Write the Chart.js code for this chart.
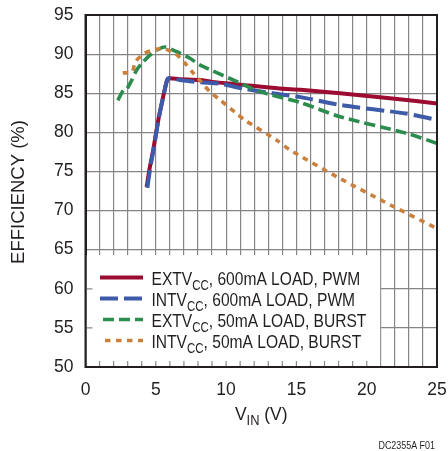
<!DOCTYPE html>
<html>
<head>
<meta charset="utf-8">
<script src="https://cdn.jsdelivr.net/npm/chart.js@4.4.1/dist/chart.umd.min.js"></script>
<style>
  html, body { margin: 0; padding: 0; background: #fff; }
  #wrap { width: 448px; height: 451px; }
</style>
</head>
<body>
<div id="wrap"><canvas id="effChart"></canvas></div>
<script>
// data (VIN in volts, efficiency in %)
const vinExt600 = [4.35, 4.55, 4.82, 5.18, 5.53, 5.77, 5.9, 6.7, 8.15, 9, 11, 13.8, 15.3, 18.1, 22, 25]
const effExt600 = [73.0, 75.3, 77.8, 81.6, 84.6, 86.5, 86.9, 86.8, 86.7, 86.45, 86.1, 85.6, 85.45, 85.0, 84.3, 83.7]

const vinInt600 = [4.4, 4.6, 4.85, 5.2, 5.55, 5.78, 5.9, 6.7, 8.15, 9.6, 11.2, 13.3, 15.3, 18.1, 22.8, 25]
const effInt600 = [72.9, 75.4, 77.9, 81.7, 84.7, 86.5, 86.9, 86.7, 86.4, 86.2, 85.6, 85.0, 84.5, 83.5, 82.4, 81.6]

const vinExt50 = [2.3, 2.7, 2.95, 3.3, 3.65, 4.1, 4.6, 5.05, 5.65, 6.5, 7.4, 8.15, 11, 12.4, 15.3, 18.1, 22.8, 25]
const effExt50 = [84.1, 85.4, 85.6, 86.7, 88.0, 89.0, 89.9, 90.5, 90.9, 90.3, 89.5, 88.6, 86.3, 85.2, 83.8, 82.0, 79.9, 78.6]

const vinInt50 = [2.65, 3.3, 3.55, 4.1, 4.8, 5.6, 6.5, 7.1, 7.7, 8.2, 8.85, 9.6, 10.75, 11.3, 13.6, 14.5, 18.1, 21.7, 25]
const effInt50 = [87.6, 87.7, 89.0, 90.0, 90.5, 90.7, 89.9, 88.8, 87.5, 86.5, 85.2, 84.1, 82.4, 81.6, 79.0, 77.8, 74.1, 70.7, 67.7]

const yTicks = [50, 55, 60, 65, 70, 75, 80, 85, 90, 95]
const xTicks = [0, 5, 10, 15, 20, 25]

const legendMain = ['EXTV', 'INTV', 'EXTV', 'INTV']
const legendRest = [', 600mA LOAD, PWM', ', 600mA LOAD, PWM', ', 50mA LOAD, BURST', ', 50mA LOAD, BURST']

const FONT = "'Liberation Sans', Arial, sans-serif"
const INK = '#231f20'

const colors = ['#9c0b30', '#3e5ba9', '#2b8c4e', '#c9803c']
const dashes = [[], [18, 6], [11, 5], [5.5, 5.5]]
const widths = [4, 4, 3.6, 3.6]

const toPoints = (xs, ys) => xs.map((x, i) => ({ x: x, y: ys[i] }))

const series = [
  toPoints(vinExt600, effExt600),
  toPoints(vinInt600, effInt600),
  toPoints(vinExt50, effExt50),
  toPoints(vinInt50, effInt50)
]

// text with a subscript part, squeezed horizontally by sx
function subText(ctx, x, y, main, sub, rest, size, sx) {
  ctx.save()
  ctx.translate(x, y)
  ctx.scale(sx, 1)
  let cx = 0
  ctx.font = size + 'px ' + FONT
  ctx.fillText(main, cx, 0)
  cx += ctx.measureText(main).width
  ctx.font = Math.round(size * 0.74) + 'px ' + FONT
  ctx.fillText(sub, cx, size * 0.25)
  cx += ctx.measureText(sub).width
  ctx.font = size + 'px ' + FONT
  ctx.fillText(rest, cx, 0)
  cx += ctx.measureText(rest).width
  ctx.restore()
  return cx * sx
}

function subWidth(ctx, main, sub, rest, size, sx) {
  ctx.font = size + 'px ' + FONT
  let w = ctx.measureText(main).width + ctx.measureText(rest).width
  ctx.font = Math.round(size * 0.74) + 'px ' + FONT
  w += ctx.measureText(sub).width
  return w * sx
}

// white legend box over the grid, with the inner axis ticks kept
const legendBox = {
  id: 'legendBox',
  beforeDatasetsDraw(chart) {
    const { ctx, chartArea, scales } = chart
    const x0 = chartArea.left + 1
    const x1 = scales.x.getPixelForValue(21) - 0.6
    const y0 = scales.y.getPixelForValue(64.3)
    const y1 = chartArea.bottom - 1
    ctx.save()
    ctx.fillStyle = '#fff'
    ctx.fillRect(x0, y0, x1 - x0, y1 - y0)
    ctx.strokeStyle = '#8a8a8a'
    ctx.lineWidth = 1.2
    ctx.beginPath()
    for (let v = 1; v < 21; v++) {
      const px = scales.x.getPixelForValue(v)
      ctx.moveTo(px, chartArea.bottom)
      ctx.lineTo(px, chartArea.bottom - 6)
    }
    ;[55, 60].forEach(v => {
      const py = scales.y.getPixelForValue(v)
      ctx.moveTo(chartArea.left, py)
      ctx.lineTo(chartArea.left + 7, py)
    })
    ctx.stroke()
    ctx.restore()
  },
  afterDraw(chart) {
    const { ctx, chartArea } = chart
    ctx.save()
    // frame
    ctx.strokeStyle = INK
    ctx.lineWidth = 2
    ctx.strokeRect(chartArea.left, chartArea.top, chartArea.right - chartArea.left, chartArea.bottom - chartArea.top)

    // legend entries
    ctx.fillStyle = INK
    ctx.textBaseline = 'alphabetic'
    ctx.textAlign = 'left'
    const starts = [100, 100, 103, 105]
    for (let i = 0; i < 4; i++) {
      const base = 285 + i * 21
      const ly = base - 7.5
      ctx.strokeStyle = colors[i]
      ctx.lineWidth = widths[i]
      ctx.setLineDash(dashes[i])
      ctx.beginPath()
      ctx.moveTo(starts[i], ly)
      ctx.lineTo(143, ly)
      ctx.stroke()
      ctx.setLineDash([])
      subText(ctx, 151.5, base, legendMain[i], 'CC', legendRest[i], 19, 0.82)
    }

    // y title
    ctx.save()
    ctx.translate(24, 192)
    ctx.rotate(-Math.PI / 2)
    ctx.textAlign = 'center'
    ctx.font = '18.5px ' + FONT
    ctx.fillText('EFFICIENCY (%)', 0, 0)
    ctx.restore()

    // x title
    const cx = (chartArea.left + chartArea.right) / 2
    const tw = subWidth(ctx, 'V', 'IN', ' (V)', 19, 0.92)
    subText(ctx, cx - tw / 2, 420, 'V', 'IN', ' (V)', 19, 0.92)

    // figure note
    ctx.save()
    ctx.translate(435, 449)
    ctx.scale(0.85, 1)
    ctx.font = '10.5px ' + FONT
    ctx.textAlign = 'right'
    ctx.fillText('DC2355A F01', 0, 0)
    ctx.restore()
    ctx.restore()
  }
}

const ctx = document.getElementById('effChart').getContext('2d')

const effChart = new Chart(ctx, {
  type: 'scatter',
  data: {
    datasets: series.map((pts, i) => ({
      label: legendMain[i] + 'CC' + legendRest[i],
      data: pts,
      showLine: true,
      borderColor: colors[i],
      backgroundColor: colors[i],
      borderWidth: widths[i],
      borderDash: dashes[i],
      borderCapStyle: 'butt',
      borderJoinStyle: 'round',
      pointRadius: 0,
      tension: 0.25,
      order: 4 - i
    }))
  },
  options: {
    responsive: true,
    maintainAspectRatio: false,
    animation: false,
    events: [],
    layout: { padding: { top: 15, right: 11, left: 0, bottom: 0 } },
    plugins: {
      legend: { display: false },
      tooltip: { enabled: false }
    },
    scales: {
      x: {
        type: 'linear',
        min: 0,
        max: 25,
        afterFit: s => {
          s.height = 84
          s.paddingLeft = 0
          s.paddingRight = 0
        },
        afterBuildTicks: s => {
          const t = []
          for (let v = 0; v <= 25; v++) t.push({ value: v })
          s.ticks = t
        },
        grid: { color: '#858585', lineWidth: 1.2, drawTicks: false },
        border: { color: INK, width: 2 },
        ticks: {
          padding: 13,
          autoSkip: false,
          maxRotation: 0,
          color: INK,
          font: { family: FONT, size: 17.5 },
          callback: v => xTicks.includes(v) ? String(v) : ''
        }
      },
      y: {
        min: 50,
        max: 95,
        afterFit: s => {
          s.width = 85.5
          s.paddingTop = 0
          s.paddingBottom = 0
        },
        afterBuildTicks: s => { s.ticks = yTicks.map(v => ({ value: v })) },
        grid: { color: '#858585', lineWidth: 1.2, drawTicks: false },
        border: { color: INK, width: 2 },
        ticks: {
          padding: 12,
          color: INK,
          font: { family: FONT, size: 17.5 }
        }
      }
    }
  },
  plugins: [legendBox]
})
</script>
</body>
</html>
